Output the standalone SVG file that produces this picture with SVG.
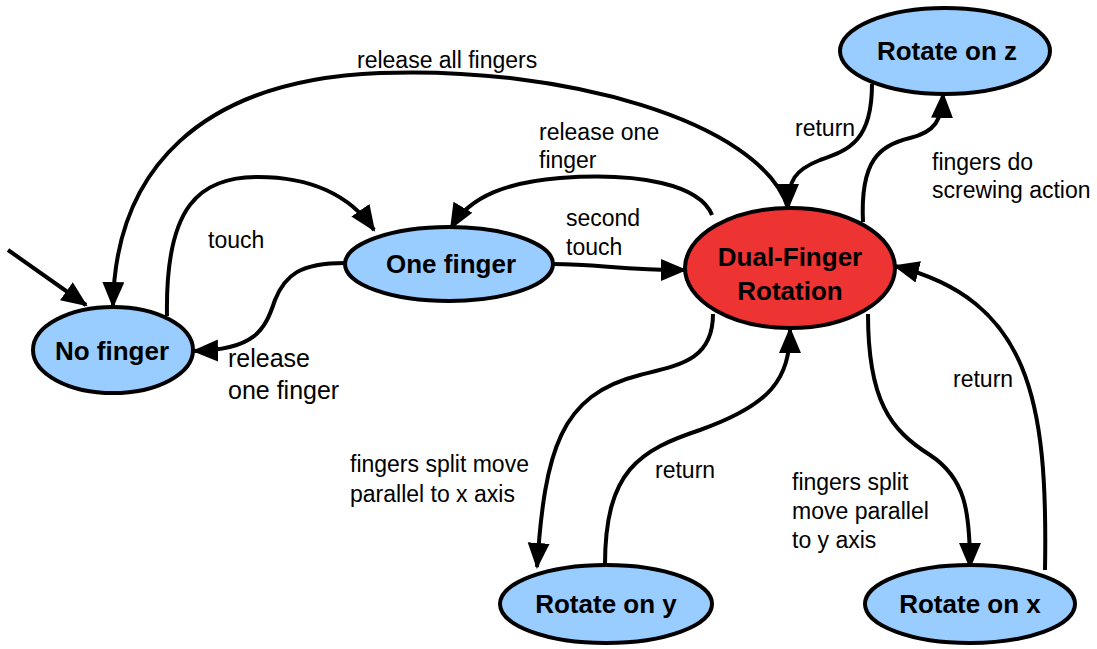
<svg xmlns="http://www.w3.org/2000/svg" width="1097" height="649" viewBox="0 0 1097 649">
<style>
.node{fill:#99ccff;stroke:#000;stroke-width:4}
.hot{fill:#ee3333;stroke:#000;stroke-width:4}
.nt{font-family:"Liberation Sans",Arial,sans-serif;font-weight:bold;font-size:26px;fill:#000;text-anchor:middle}
.lb{font-family:"Liberation Sans",Arial,sans-serif;font-size:23px;fill:#000}
.e{fill:none;stroke:#000;stroke-width:4;marker-end:url(#ah)}
</style>
<defs>
<marker id="ah" markerUnits="userSpaceOnUse" markerWidth="30" markerHeight="24" refX="24" refY="11" orient="auto">
<path d="M0,0 L26,11 L0,22 Z" fill="#000"/>
</marker>
</defs>
<rect width="1097" height="649" fill="#fff"/>
<g id="connectors">
<path class="e" d="M8,250 L86,305"/>
<path class="e" d="M788,208 C760,120 560,66 380,73 C200,80 115,170 113,306"/>
<path class="e" d="M167,316 C165,205 200,177 258,177 C310,177 350,195 374,230"/>
<path class="e" d="M345,263 C300,263 285,275 275,300 C265,330 255,350 194,351"/>
<path class="e" d="M553,264 C600,264 620,270 685,270"/>
<path class="e" d="M712,215 C700,185 640,172 560,178 C510,182 470,195 451,228"/>
<path class="e" d="M872,84 C872,140 850,150 820,160 C795,170 788,180 788,208"/>
<path class="e" d="M863,222 C860,160 880,145 910,138 C935,132 942,120 943,94"/>
<path class="e" d="M713,314 C713,360 680,365 640,375 C560,395 545,450 537,567"/>
<path class="e" d="M605,565 C605,470 640,450 700,430 C770,405 790,380 790,329"/>
<path class="e" d="M868,314 C868,400 890,430 930,455 C965,478 970,510 970,567"/>
<path class="e" d="M1045,570 C1048,400 1030,300 895,266"/>
</g>
<g id="labels">
<text class="lb" x="357" y="68">release all fingers</text>
<text class="lb" x="208" y="248">touch</text>
<text class="lb" x="539" y="140">release one</text>
<text class="lb" x="539" y="168">finger</text>
<text class="lb" x="566" y="226">second</text>
<text class="lb" x="566" y="255">touch</text>
<text class="lb" x="228" y="367" style="font-size:25px">release</text>
<text class="lb" x="228" y="399" style="font-size:25px">one finger</text>
<text class="lb" x="795" y="136">return</text>
<text class="lb" x="932" y="170">fingers do</text>
<text class="lb" x="932" y="198">screwing action</text>
<text class="lb" x="953" y="387">return</text>
<text class="lb" x="350" y="472">fingers split move</text>
<text class="lb" x="350" y="502">parallel to x axis</text>
<text class="lb" x="655" y="478">return</text>
<text class="lb" x="792" y="490">fingers split</text>
<text class="lb" x="792" y="519">move parallel</text>
<text class="lb" x="792" y="548">to y axis</text>
</g>
<g id="no-finger">
<ellipse class="node" cx="113" cy="350" rx="80" ry="43"/>
<text class="nt" x="112" y="360">No finger</text>
</g>
<g id="one-finger">
<ellipse class="node" cx="449" cy="264" rx="104" ry="37"/>
<text class="nt" x="451" y="273">One finger</text>
</g>
<g id="dual-finger">
<ellipse class="hot" cx="790" cy="268" rx="105" ry="60"/>
<text class="nt" x="790" y="266">Dual-Finger</text>
<text class="nt" x="790" y="300">Rotation</text>
</g>
<g id="rotate-z">
<ellipse class="node" cx="945" cy="51" rx="105" ry="43"/>
<text class="nt" x="947" y="60">Rotate on z</text>
</g>
<g id="rotate-y">
<ellipse class="node" cx="606" cy="604" rx="106" ry="39"/>
<text class="nt" x="606" y="613">Rotate on y</text>
</g>
<g id="rotate-x">
<ellipse class="node" cx="970" cy="604" rx="105" ry="39"/>
<text class="nt" x="970" y="613">Rotate on x</text>
</g>
</svg>
